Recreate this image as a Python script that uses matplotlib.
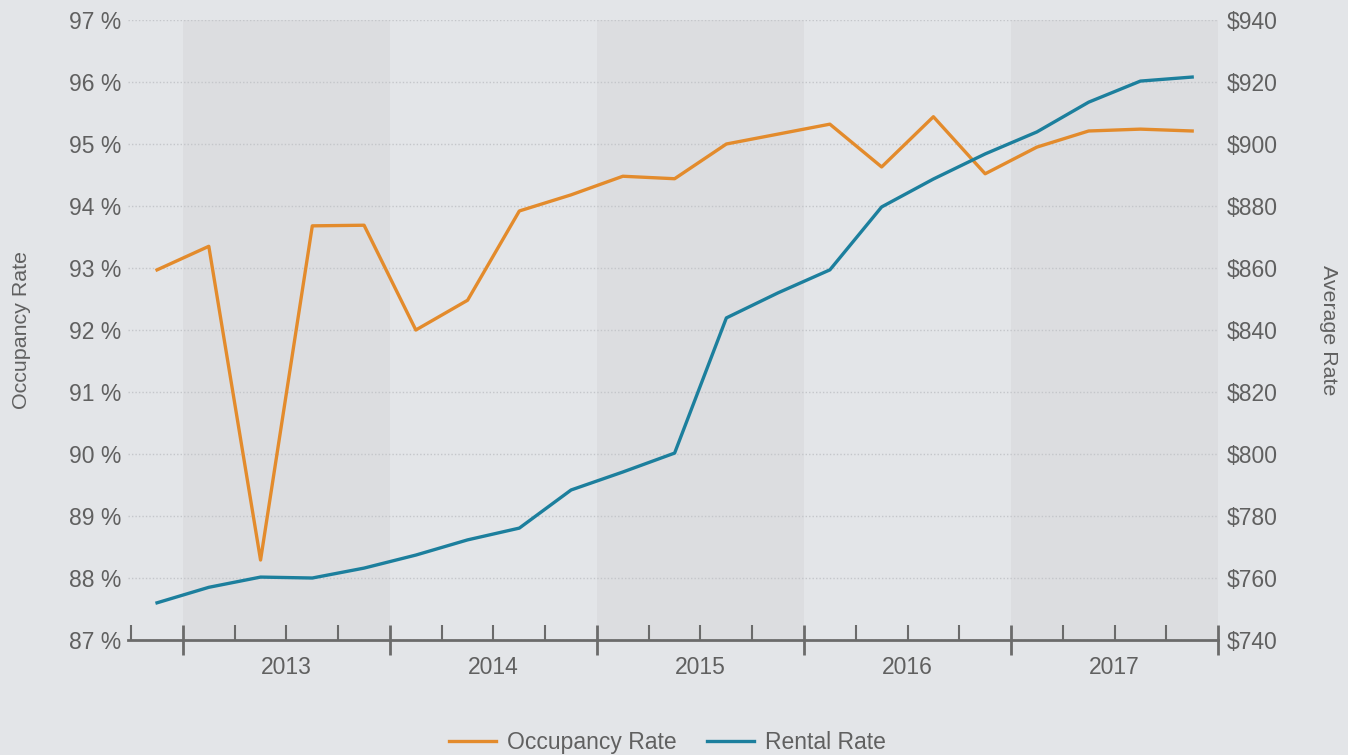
import matplotlib.pyplot as plt
import matplotlib.ticker as mticker

plt.rcParams['font.family'] = ['Liberation Sans', 'DejaVu Sans']

# quarterly values, Q4 2012 .. Q4 2017
occupancy = [92.97, 93.35, 88.29, 93.68, 93.69, 92.0, 92.48, 93.92, 94.18, 94.48, 94.44,
             95.0, 95.16, 95.32, 94.63, 95.44, 94.52, 94.95, 95.21, 95.24, 95.21]
rental = [752, 757, 760.3, 760, 763.2, 767.4, 772.3, 776.1, 788.4, 794.2, 800.3,
          843.9, 852, 859.4, 879.7, 888.7, 896.8, 903.9, 913.5, 920.3, 921.6]
years = ['2013', '2014', '2015', '2016', '2017']

bg = '#e3e5e8'; band = '#dcdde0'; txt = '#606060'
orange = '#e38b2c'; blue = '#1c7f9d'

fig = plt.figure(figsize=(13.48, 7.55), dpi=100, facecolor=bg)
ax = fig.add_axes([0.095, 0.1523, 0.8086, 0.8212])
ax.set_facecolor(bg)
x = [i + 0.5 for i in range(len(occupancy))]

for k in range(0, len(years), 2):
    ax.axvspan(1 + 4*k, 5 + 4*k, color=band, lw=0, zorder=0)

ax.set_xlim(-0.06, 21)
ax.set_ylim(87, 97)
ax.yaxis.set_major_locator(mticker.MultipleLocator(1))
ax.yaxis.set_major_formatter(mticker.FuncFormatter(lambda v, p: f"{v:.0f} %"))
ax.grid(axis='y', color='#c4c6ca', linestyle=(0, (1, 1.5)), linewidth=1)
ax.set_axisbelow(True)

for s in ['top', 'left', 'right']:
    ax.spines[s].set_visible(False)
ax.spines['bottom'].set_color('#6b6b6b')
ax.spines['bottom'].set_linewidth(2)

ax.set_xticks([1, 5, 9, 13, 17, 21])
ax.set_xticks([i for i in range(22) if (i - 1) % 4 != 0], minor=True)
ax.set_xticklabels([])
ax.tick_params(axis='x', which='major', direction='inout', length=22, width=2, color='#6b6b6b')
ax.tick_params(axis='x', which='minor', direction='in', length=11, width=1.5, color='#6b6b6b')
for k, yr in enumerate(years):
    ax.text(3 + 4*k, 86.75, yr, ha='center', va='top', fontsize=16.5, color=txt)

ax.tick_params(axis='y', length=0, pad=5, labelsize=16.5, labelcolor=txt)
ax.set_ylabel('Occupancy Rate', fontsize=15.4, color=txt, labelpad=27)

l1, = ax.plot(x, occupancy, color=orange, lw=2.4, label='Occupancy Rate', zorder=3)

ax2 = ax.twinx()
ax2.set_ylim(740, 940)
ax2.yaxis.set_major_locator(mticker.MultipleLocator(20))
ax2.yaxis.set_major_formatter(mticker.FuncFormatter(lambda v, p: f"${v:.0f}"))
for s in ax2.spines.values():
    s.set_visible(False)
ax2.tick_params(axis='y', length=0, pad=6, labelsize=16.5, labelcolor=txt)
ax2.set_ylabel('Average Rate', fontsize=15.4, color=txt, rotation=270, labelpad=44)
l2, = ax2.plot(x, rental, color=blue, lw=2.4, label='Rental Rate', zorder=3)

fig.legend(handles=[l1, l2], loc='center', bbox_to_anchor=(0.495, 0.017), ncol=2,
           frameon=False, fontsize=16.5, labelcolor=txt, handlelength=2.05,
           handletextpad=0.48, columnspacing=1.35)

fig.savefig('out.png', dpi=100, facecolor=bg)
